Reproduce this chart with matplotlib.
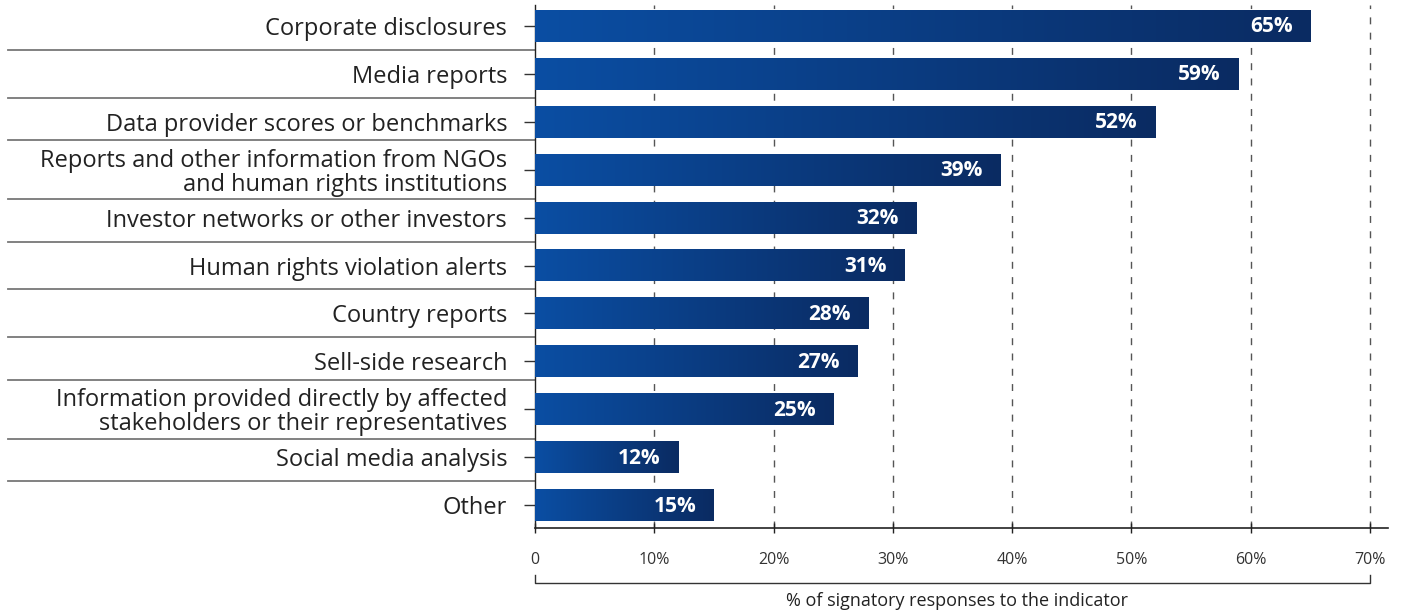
import matplotlib
matplotlib.use('Agg')
import matplotlib.pyplot as plt
import matplotlib.transforms as mtransforms
from matplotlib.colors import LinearSegmentedColormap
import numpy as np

plt.rcParams['font.family'] = ['Open Sans', 'DejaVu Sans']

categories = [
    'Corporate disclosures',
    'Media reports',
    'Data provider scores or benchmarks',
    'Reports and other information from NGOs\nand human rights institutions',
    'Investor networks or other investors',
    'Human rights violation alerts',
    'Country reports',
    'Sell-side research',
    'Information provided directly by affected\nstakeholders or their representatives',
    'Social media analysis',
    'Other',
]
values = [65, 59, 52, 39, 32, 31, 28, 27, 25, 12, 15]
xticks = [0, 10, 20, 30, 40, 50, 60, 70]
xtick_labels = ['0', '10%', '20%', '30%', '40%', '50%', '60%', '70%']
xlabel = '% of signatory responses to the indicator'

fig = plt.figure(figsize=(14.05, 6.14), dpi=100)
ax = fig.add_axes([0.3808, 0.140, 0.607, 0.852])

cmap = LinearSegmentedColormap.from_list('bar', ['#0b4ea3', '#0a2b62'])
grad = np.linspace(0, 1, 256).reshape(1, -1)
h = 0.667
for i, v in enumerate(values):
    ax.imshow(grad, cmap=cmap, aspect='auto', extent=(0, v, i + h / 2, i - h / 2), zorder=3)
    ax.text(v - 1.5, i + 0.02, f'{v}%', ha='right', va='center', color='white',
            fontsize=15, fontweight='bold', zorder=4)

ax.set_xlim(0, 71.5)
ax.set_ylim(len(categories) - 0.52, -0.44)

for x in xticks[1:]:
    ax.axvline(x, color='#555555', lw=1.0, ls=(0, (5, 6)), zorder=1)

ax.set_yticks(range(len(categories)))
ax.set_yticklabels(categories, fontsize=17, color='#222222', linespacing=1.0)
ax.tick_params(axis='y', length=8, width=1, color='#333333', pad=12)
ax.set_xticks(xticks)
ax.set_xticklabels(xtick_labels, fontsize=11.5, color='#333333')
ax.tick_params(axis='x', direction='inout', length=7, width=1, color='#222222', pad=14)

for s in ['top', 'right']:
    ax.spines[s].set_visible(False)
ax.spines['left'].set_color('#222222')
ax.spines['bottom'].set_color('#222222')
ax.spines['left'].set_linewidth(1)
ax.spines['bottom'].set_linewidth(1.2)

# separator lines between the category labels
trans = mtransforms.blended_transform_factory(fig.transFigure, ax.transData)
two_line = [i for i, c in enumerate(categories) if '\n' in c]
for i in range(len(categories) - 1):
    y = i + 0.5
    if i in two_line:
        y += 0.12
    if i + 1 in two_line:
        y -= 0.12
    ax.plot([8 / 1405, 0.3808], [y, y], transform=trans, color='#777777', lw=1.3,
            clip_on=False, zorder=2)

# bracket with axis title
xt = ax.get_xaxis_transform()
ax.plot([0, 0, 70, 70], [-0.09, -0.105, -0.105, -0.09], transform=xt,
        color='#333333', lw=1, clip_on=False)
ax.text(35.4, -0.122, xlabel, transform=xt, ha='center', va='top', fontsize=13,
        color='#222222')

fig.savefig('out.png', dpi=100)
